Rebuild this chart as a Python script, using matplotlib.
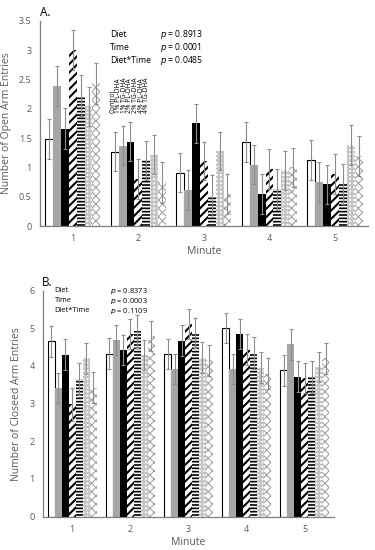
import matplotlib
matplotlib.use("Agg")
import matplotlib.pyplot as plt
import numpy as np

plt.rcParams['font.family'] = ['Open Sans', 'DejaVu Sans']

minutes = ["1", "2", "3", "4", "5"]
groups = ["Control", "1% PL-DHA", "1% TG-DHA", "2% PL-DHA", "2% TG-DHA", "4% PL-DHA", "4% TG-DHA"]

open_mean = {
    "Control":   [1.48, 1.27, 0.91, 1.43, 1.13],
    "1% PL-DHA": [2.39, 1.37, 0.62, 1.05, 0.75],
    "1% TG-DHA": [1.66, 1.44, 1.75, 0.55, 0.71],
    "2% PL-DHA": [3.00, 0.81, 1.11, 0.98, 0.89],
    "2% TG-DHA": [2.22, 1.12, 0.51, 0.63, 0.72],
    "4% PL-DHA": [2.04, 1.22, 1.28, 0.95, 1.38],
    "4% TG-DHA": [2.44, 0.75, 0.54, 1.00, 1.19],
}
open_se = {
    "Control":   [0.34, 0.33, 0.33, 0.34, 0.34],
    "1% PL-DHA": [0.34, 0.33, 0.34, 0.33, 0.34],
    "1% TG-DHA": [0.35, 0.33, 0.33, 0.34, 0.34],
    "2% PL-DHA": [0.34, 0.34, 0.33, 0.34, 0.34],
    "2% TG-DHA": [0.35, 0.33, 0.36, 0.35, 0.34],
    "4% PL-DHA": [0.34, 0.33, 0.33, 0.33, 0.34],
    "4% TG-DHA": [0.35, 0.35, 0.34, 0.34, 0.34],
}
closed_mean = {
    "Control":   [4.65, 4.33, 4.32, 5.00, 3.88],
    "1% PL-DHA": [3.42, 4.68, 3.92, 3.92, 4.57],
    "1% TG-DHA": [4.30, 4.43, 4.67, 4.85, 3.72],
    "2% PL-DHA": [2.98, 4.85, 5.12, 4.43, 3.68],
    "2% TG-DHA": [3.65, 4.92, 4.88, 4.35, 3.70],
    "4% PL-DHA": [4.20, 4.30, 4.22, 3.95, 3.98],
    "4% TG-DHA": [3.42, 4.80, 4.15, 3.80, 4.20],
}
closed_se = {
    "Control":   [0.40, 0.40, 0.40, 0.40, 0.40],
    "1% PL-DHA": [0.40, 0.40, 0.40, 0.40, 0.40],
    "1% TG-DHA": [0.42, 0.40, 0.41, 0.40, 0.40],
    "2% PL-DHA": [0.43, 0.40, 0.40, 0.41, 0.40],
    "2% TG-DHA": [0.42, 0.43, 0.40, 0.42, 0.42],
    "4% PL-DHA": [0.40, 0.40, 0.41, 0.41, 0.40],
    "4% TG-DHA": [0.41, 0.40, 0.41, 0.42, 0.40],
}

stats_open = [("Diet", "0.8913"), ("Time", "0.0001"), ("Diet*Time", "0.0485")]
stats_closed = [("Diet", "0.8373"), ("Time", "0.0003"), ("Diet*Time", "0.1109")]

styles = {
    "Control":   dict(facecolor="white", edgecolor="black", hatch=None, lw=0.8, hlw=1.0),
    "1% PL-DHA": dict(facecolor="#a6a6a6", edgecolor="#a6a6a6", hatch=None, lw=0, hlw=1.0),
    "1% TG-DHA": dict(facecolor="black", edgecolor="black", hatch=None, lw=0, hlw=1.0),
    "2% PL-DHA": dict(facecolor="white", edgecolor="black", hatch="////", lw=0, hlw=1.5),
    "2% TG-DHA": dict(facecolor="white", edgecolor="black", hatch="-----", lw=0, hlw=1.2),
    "4% PL-DHA": dict(facecolor="white", edgecolor="#c4c4c4", hatch="++++", lw=0, hlw=1.6),
    "4% TG-DHA": dict(facecolor="white", edgecolor="#9a9a9a", hatch="xxxx", lw=0, hlw=0.7),
}

GRAY = "#595959"
x = np.arange(1, len(minutes) + 1)
n = len(groups)
bw = 0.12


def draw(ax, means, ses, ymax, ystep, ylabel):
    for i, g in enumerate(groups):
        st = styles[g]
        xs = x + (i - (n - 1) / 2) * bw
        bars = ax.bar(xs, means[g], width=bw, facecolor=st["facecolor"],
                      edgecolor=st["edgecolor"], hatch=st["hatch"], linewidth=st["lw"], zorder=2)
        for b in bars:
            try:
                b.set_hatch_linewidth(st["hlw"])
            except Exception:
                pass
        ax.errorbar(xs, means[g], yerr=ses[g], fmt="none", ecolor="#8c8c8c",
                    elinewidth=0.8, capsize=1.5, capthick=0.8, zorder=3)
    ax.set_xlim(0.5, 5.5)
    ax.set_ylim(0, ymax)
    ax.set_yticks(np.arange(0, ymax + 1e-9, ystep))
    ax.set_yticklabels([("%g" % v) for v in np.arange(0, ymax + 1e-9, ystep)])
    ax.set_xticks(x)
    ax.set_xticklabels(minutes)
    ax.tick_params(length=0, labelsize=6.5, colors=GRAY, pad=6)
    for s in ["top", "right"]:
        ax.spines[s].set_visible(False)
    for s in ["left", "bottom"]:
        ax.spines[s].set_color("#7f7f7f")
        ax.spines[s].set_linewidth(0.9)
    ax.set_xlabel("Minute", fontsize=7.5, color=GRAY, labelpad=2)
    ax.set_ylabel(ylabel, fontsize=7.5, color=GRAY, labelpad=5)


fig = plt.figure(figsize=(3.75, 5.5), dpi=100)

axA = fig.add_axes([0.1067, 0.589, 0.874, 0.373])
draw(axA, open_mean, open_se, 3.5, 0.5, "Number of Open Arm Entries")
for k, (name, p) in enumerate(stats_open):
    yv = 3.26 - k * 0.215
    axA.text(1.57, yv, name, fontsize=6.2, va="center", ha="left")
    axA.text(2.33, yv, r"$\it{p}$ = " + p, fontsize=6.2, va="center", ha="left")
for i, g in enumerate(groups):
    axA.text(1.61 + i * 0.087, 1.93, g, rotation=90, fontsize=4.8, va="bottom", ha="center")
fig.text(40 / 375, 1 - 12 / 550, "A.", fontsize=8.5, va="center", ha="left")

axB = fig.add_axes([0.1147, 0.0606, 0.776, 0.411])
draw(axB, closed_mean, closed_se, 6, 1, "Number of Closeed Arm Entries")
for k, (name, p) in enumerate(stats_closed):
    yv = 6.0 - k * 0.27
    axB.text(0.70, yv, name, fontsize=5.4, va="center", ha="left")
    axB.text(1.65, yv, r"$\it{p}$ = " + p, fontsize=5.4, va="center", ha="left")
fig.text(42 / 375, 1 - 283 / 550, "B.", fontsize=8.5, va="center", ha="left")

fig.savefig("out.png", dpi=100)
